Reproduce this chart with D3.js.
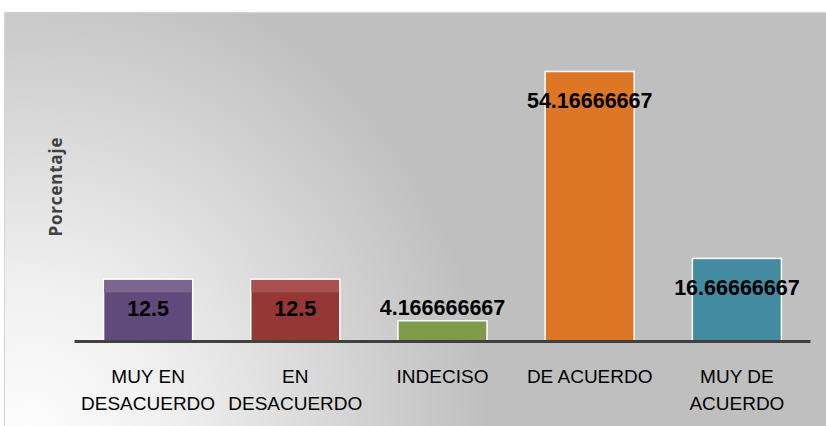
<!DOCTYPE html>
<html>
<head>
<meta charset="utf-8">
<script src="https://cdn.jsdelivr.net/npm/d3@7/dist/d3.min.js"></script>
<style>
  body { margin: 0; background: #fff; }
  svg { display: block; }
</style>
</head>
<body>
<svg width="826" height="426"></svg>
<script>
// chart data
var categories = ["MUY EN DESACUERDO", "EN DESACUERDO", "INDECISO", "DE ACUERDO", "MUY DE ACUERDO"];
var values = [12.5, 12.5, 4.166666667, 54.16666667, 16.66666667];
var valueLabels = ["12.5", "12.5", "4.166666667", "54.16666667", "16.66666667"];
var axisTitle = "Porcentaje";

// look
var barColors = ["#604a7b", "#953735", "#7f9a48", "#dd7726", "#428ba1"];
var capColors = ["#7b6690", "#a85150", null, null, null];

var svg = d3.select("svg"),
    width = +svg.attr("width"),
    height = +svg.attr("height");

var defs = svg.append("defs");
var grad = defs.append("radialGradient")
    .attr("id", "bg")
    .attr("gradientUnits", "userSpaceOnUse")
    .attr("cx", 30).attr("cy", 430).attr("r", 460)
    .attr("gradientTransform", "translate(30,430) scale(1,1.05) translate(-30,-430)");
grad.append("stop").attr("offset", 0).attr("stop-color", "#fdfdfd");
grad.append("stop").attr("offset", 0.3).attr("stop-color", "#f0f0f0");
grad.append("stop").attr("offset", 1).attr("stop-color", "#bfbfbf");

// chart area background
svg.append("rect")
    .attr("x", 4.5).attr("y", 12.5)
    .attr("width", width).attr("height", height)
    .attr("fill", "url(#bg)")
    .attr("stroke", "#d4d4d4")
    .attr("stroke-width", 1);

var x = d3.scaleBand()
    .domain(categories)
    .range([74.5, 810.5])
    .paddingInner(0.395)
    .paddingOuter(0.1975);

var y = d3.scaleLinear()
    .domain([0, 60])
    .range([341.5, 42.4]);

var g = svg.append("g");

var bar = g.selectAll(".bar")
    .data(categories)
    .enter().append("g")
      .attr("class", "bar");

bar.append("rect")
    .attr("x", function(d) { return x(d); })
    .attr("y", function(d, i) { return y(values[i]); })
    .attr("width", x.bandwidth())
    .attr("height", function(d, i) { return y(0) - y(values[i]); })
    .attr("fill", function(d, i) { return barColors[i]; })
    .attr("stroke", "#ffffff")
    .attr("stroke-width", 1.5);

// lighter top strip on the first two bars
bar.filter(function(d, i) { return capColors[i]; })
  .append("rect")
    .attr("x", function(d) { return x(d) + 0.75; })
    .attr("y", function(d) { return y(values[categories.indexOf(d)]) + 0.75; })
    .attr("width", x.bandwidth() - 1.5)
    .attr("height", 12.5)
    .attr("fill", function(d) { return capColors[categories.indexOf(d)]; });

// x axis line
g.append("line")
    .attr("x1", x.range()[0]).attr("x2", x.range()[1])
    .attr("y1", y(0)).attr("y2", y(0))
    .attr("stroke", "#404040")
    .attr("stroke-width", 3);

// value labels
bar.append("text")
    .attr("x", function(d) { return x(d) + x.bandwidth() / 2; })
    .attr("y", function(d, i) {
      var top = y(values[i]);
      return (y(0) - top) > 45 ? top + 37 : top - 6;
    })
    .attr("text-anchor", "middle")
    .style("font", "bold 21.5px 'Liberation Sans', Arial, sans-serif")
    .attr("fill", "#000")
    .text(function(d, i) { return valueLabels[i]; });

// category labels, wrapped to band step
var catText = g.selectAll(".cat")
    .data(categories)
    .enter().append("text")
      .attr("class", "cat")
      .attr("x", function(d) { return x(d) + x.bandwidth() / 2; })
      .attr("y", 383)
      .attr("text-anchor", "middle")
      .style("font", "19px 'Liberation Sans', Arial, sans-serif")
      .attr("fill", "#000");

catText.each(function(d) {
  var el = d3.select(this),
      words = d.split(" "),
      line = [],
      cx = el.attr("x"),
      tspan = el.append("tspan").attr("x", cx).attr("dy", 0);
  words.forEach(function(w) {
    line.push(w);
    tspan.text(line.join(" "));
    if (tspan.node().getComputedTextLength() > x.step() - 6 && line.length > 1) {
      line.pop();
      tspan.text(line.join(" "));
      line = [w];
      tspan = el.append("tspan").attr("x", cx).attr("dy", 27).text(w);
    }
  });
});

// y axis title
svg.append("text")
    .attr("transform", "translate(62,187) rotate(-90)")
    .attr("text-anchor", "middle")
    .attr("textLength", 99)
    .style("font", "bold 17px 'Open Sans', 'Liberation Sans', Arial, sans-serif")
    .attr("fill", "#404040")
    .text(axisTitle);
</script>
</body>
</html>
